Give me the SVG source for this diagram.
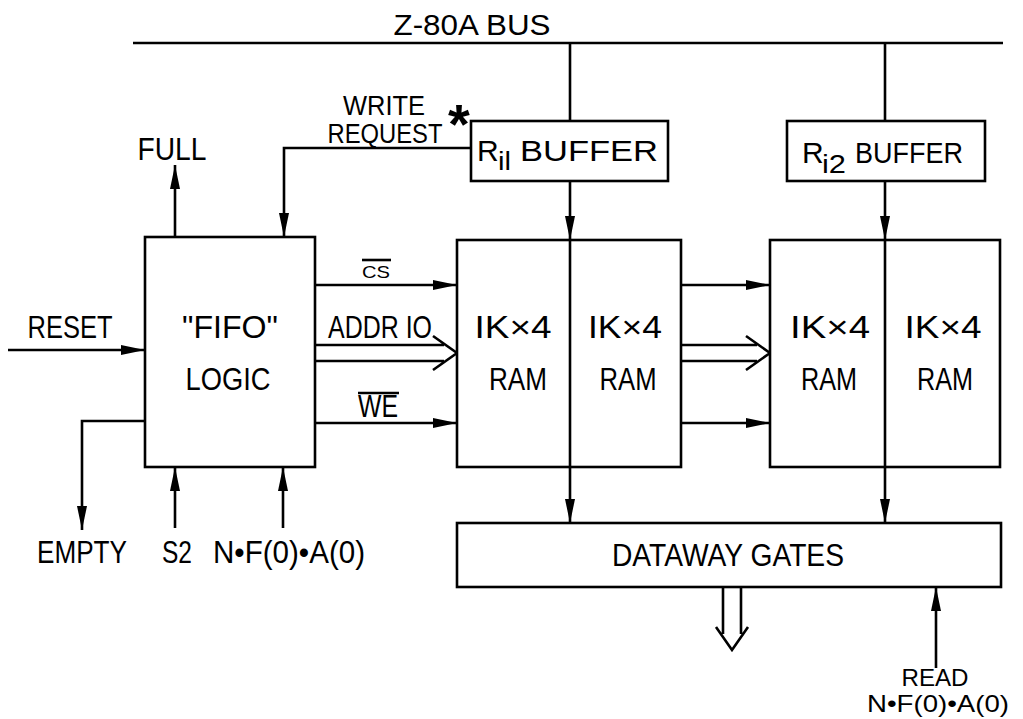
<svg xmlns="http://www.w3.org/2000/svg" width="1023" height="719" viewBox="0 0 1023 719">
<style>
  .ln{stroke:#000;stroke-width:2.6;fill:none}
  .bx{stroke:#000;stroke-width:2.6;fill:#fff}
  .t{font-family:"Liberation Sans","DejaVu Sans",sans-serif;font-size:31px;fill:#000}
  .m{text-anchor:middle}
  .a{marker-end:url(#arr)}
</style>
<defs>
  <marker id="arr" markerUnits="userSpaceOnUse" markerWidth="24" markerHeight="10" refX="24" refY="5" orient="auto" overflow="visible">
    <path d="M0,0 L24,5 L0,10 z" fill="#000"/>
  </marker>
</defs>
<rect width="1023" height="719" fill="#fff"/>

<g id="connectors">
  <line class="ln" x1="133" y1="43" x2="1003" y2="43"/>
  <line class="ln" x1="570" y1="43" x2="570" y2="121"/>
  <line class="ln" x1="885" y1="43" x2="885" y2="121"/>
  <line class="ln a" x1="570" y1="181" x2="570" y2="240"/>
  <line class="ln a" x1="885" y1="181" x2="885" y2="240"/>
  <line class="ln a" x1="570" y1="467" x2="570" y2="523"/>
  <line class="ln a" x1="885" y1="467" x2="885" y2="523"/>
  <polyline class="ln a" points="471,148 284,148 284,237"/>
  <line class="ln a" x1="175" y1="237" x2="175" y2="165"/>
  <line class="ln a" x1="8" y1="350" x2="145" y2="350"/>
  <polyline class="ln a" points="145,421 82,421 82,530"/>
  <line class="ln a" x1="175" y1="528" x2="175" y2="467"/>
  <line class="ln a" x1="283" y1="528" x2="283" y2="467"/>
  <line class="ln a" x1="315" y1="285" x2="457" y2="285"/>
  <line class="ln a" x1="315" y1="423" x2="457" y2="423"/>
  <line class="ln a" x1="681" y1="285" x2="770" y2="285"/>
  <line class="ln a" x1="681" y1="423" x2="770" y2="423"/>
  <path class="ln" d="M315,345 H444 M315,361 H444 M433,336 L457,353 L433,370"/>
  <path class="ln" d="M681,345 H757 M681,361 H757 M746,336 L770,353 L746,370"/>
  <path class="ln" d="M723,587 V634 M741,587 V634 M716,627 L732,650 L748,627"/>
  <line class="ln a" x1="936" y1="668" x2="936" y2="587"/>
</g>

<g id="bus-label"><text class="t m" x="472" y="35" style="font-size:29px" textLength="157" lengthAdjust="spacingAndGlyphs">Z-80A BUS</text></g>

<g id="write-request">
  <text class="t m" x="384" y="115" style="font-size:27px" textLength="82" lengthAdjust="spacingAndGlyphs">WRITE</text>
  <text class="t m" x="385" y="143" style="font-size:27px" textLength="115" lengthAdjust="spacingAndGlyphs">REQUEST</text>
  <text class="t" x="448" y="143" style="font-size:56px;font-weight:bold">*</text>
</g>

<g id="full"><text class="t m" x="172" y="160" textLength="69" lengthAdjust="spacingAndGlyphs">FULL</text></g>
<g id="reset"><text class="t m" x="70" y="338" textLength="85" lengthAdjust="spacingAndGlyphs">RESET</text></g>
<g id="empty"><text class="t m" x="82" y="563" textLength="90" lengthAdjust="spacingAndGlyphs">EMPTY</text></g>
<g id="s2"><text class="t m" x="177" y="563" textLength="30" lengthAdjust="spacingAndGlyphs">S2</text></g>
<g id="nfa"><text class="t m" x="289" y="563" textLength="152" lengthAdjust="spacingAndGlyphs">N•F(0)•A(0)</text></g>

<g id="fifo">
  <rect class="bx" x="145" y="237" width="170" height="230"/>
  <text class="t m" x="230" y="338" textLength="96" lengthAdjust="spacingAndGlyphs">"FIFO"</text>
  <text class="t m" x="228" y="390" textLength="85" lengthAdjust="spacingAndGlyphs">LOGIC</text>
</g>

<g id="cs"><text class="t m" x="376" y="278" style="font-size:17px" textLength="28" lengthAdjust="spacingAndGlyphs">CS</text><line class="ln" x1="362" y1="260" x2="391" y2="260" stroke-width="2"/></g>
<g id="addr"><text class="t m" x="380" y="338" textLength="104" lengthAdjust="spacingAndGlyphs">ADDR IO</text></g>
<g id="we"><text class="t m" x="378" y="417" textLength="40" lengthAdjust="spacingAndGlyphs">WE</text><line class="ln" x1="358" y1="393" x2="399" y2="393" stroke-width="2"/></g>

<g id="buffer1">
  <rect class="bx" x="471" y="121" width="197" height="60"/>
  <text class="t" x="477" y="161" style="font-size:30px">R</text>
  <text class="t" x="498" y="170" style="font-size:25px" textLength="13" lengthAdjust="spacingAndGlyphs">il</text>
  <text class="t" x="520" y="161" style="font-size:30px" textLength="138" lengthAdjust="spacingAndGlyphs">BUFFER</text>
</g>
<g id="buffer2">
  <rect class="bx" x="787" y="121" width="198" height="60"/>
  <text class="t" x="802" y="163" style="font-size:30px">R</text>
  <text class="t" x="822" y="173" style="font-size:25px" textLength="24" lengthAdjust="spacingAndGlyphs">i2</text>
  <text class="t" x="855" y="163" style="font-size:30px" textLength="108" lengthAdjust="spacingAndGlyphs">BUFFER</text>
</g>

<g id="ram1">
  <rect class="bx" x="457" y="240" width="224" height="227"/>
  <line class="ln" x1="570" y1="240" x2="570" y2="467"/>
  <text class="t m" x="513" y="338" textLength="77" lengthAdjust="spacingAndGlyphs">IK×4</text>
  <text class="t m" x="518" y="390" textLength="58" lengthAdjust="spacingAndGlyphs">RAM</text>
  <text class="t m" x="625" y="338" textLength="74" lengthAdjust="spacingAndGlyphs">IK×4</text>
  <text class="t m" x="628" y="390" textLength="57" lengthAdjust="spacingAndGlyphs">RAM</text>
</g>
<g id="ram2">
  <rect class="bx" x="770" y="240" width="230" height="227"/>
  <line class="ln" x1="885" y1="240" x2="885" y2="467"/>
  <text class="t m" x="830" y="338" textLength="80" lengthAdjust="spacingAndGlyphs">IK×4</text>
  <text class="t m" x="829" y="390" textLength="56" lengthAdjust="spacingAndGlyphs">RAM</text>
  <text class="t m" x="943" y="338" textLength="77" lengthAdjust="spacingAndGlyphs">IK×4</text>
  <text class="t m" x="945" y="390" textLength="56" lengthAdjust="spacingAndGlyphs">RAM</text>
</g>

<g id="dataway">
  <rect class="bx" x="457" y="523" width="544" height="64"/>
  <text class="t m" x="728" y="566" textLength="232" lengthAdjust="spacingAndGlyphs">DATAWAY GATES</text>
</g>

<g id="read">
  <text class="t m" x="935" y="686" style="font-size:24px" textLength="67" lengthAdjust="spacingAndGlyphs">READ</text>
  <text class="t m" x="938" y="712" style="font-size:24px" textLength="142" lengthAdjust="spacingAndGlyphs">N•F(0)•A(0)</text>
</g>
</svg>
